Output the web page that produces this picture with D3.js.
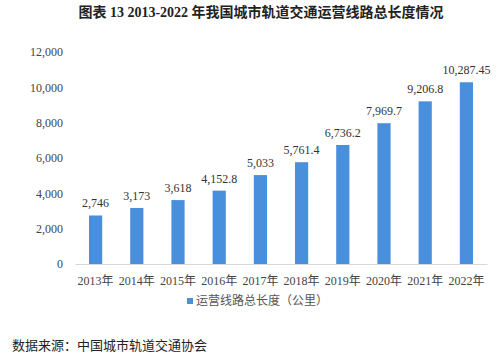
<!DOCTYPE html>
<html><head><meta charset="utf-8">
<script src="https://cdn.jsdelivr.net/npm/d3@7"></script>
<style>body{margin:0;background:#fff}svg{display:block}</style>
</head><body>
<svg id="c" width="497" height="358"></svg>
<script>
const categories = ["2013年","2014年","2015年","2016年","2017年","2018年","2019年","2020年","2021年","2022年"];
const values = [2746,3173,3618,4152.8,5033,5761.4,6736.2,7969.7,9206.8,10287.45];
const valueLabels = ["2,746","3,173","3,618","4,152.8","5,033","5,761.4","6,736.2","7,969.7","9,206.8","10,287.45"];
const yTicks = [0,2000,4000,6000,8000,10000,12000];
const seriesName = "运营线路总长度（公里）";
const title = "图表 13 2013-2022 年我国城市轨道交通运营线路总长度情况";
const source = "数据来源：中国城市轨道交通协会";

const font = "'Liberation Serif','Noto Sans CJK SC',serif";
const svg = d3.select("#c");
const color = "#4a8fdb";
const m = {l:75, r:487, t:52, b:264};
const x = d3.scaleBand().domain(categories).range([m.l, m.r]).paddingInner(0.68).paddingOuter(0.34);
const y = d3.scaleLinear().domain([0,12000]).range([m.b, m.t]);

svg.append("text").attr("x",261).attr("y",17).attr("text-anchor","middle")
  .attr("font-family",font).attr("font-weight","bold").attr("font-size",14).attr("fill","#222").text(title);

const ya = svg.append("g").attr("transform",`translate(${m.l},0)`)
  .call(d3.axisLeft(y).tickValues(yTicks).tickFormat(d3.format(",")).tickSize(0).tickPadding(12));
ya.select(".domain").remove();
ya.selectAll("text").attr("font-family",font).attr("font-size",12).attr("fill","#444");

svg.selectAll("rect.bar").data(values).enter().append("rect").attr("class","bar")
  .attr("x",(d,i)=>x(categories[i])).attr("width",x.bandwidth())
  .attr("y",d=>y(d)).attr("height",d=>y(0)-y(d)).attr("fill",color);

const xa = svg.append("g").attr("transform",`translate(0,${m.b})`)
  .call(d3.axisBottom(x).tickSize(0).tickPadding(12));
xa.select(".domain").attr("stroke","#d9d9d9");
xa.selectAll("text").attr("font-family",font).attr("font-size",12).attr("fill","#444");

svg.selectAll("text.lab").data(values).enter().append("text").attr("class","lab")
  .attr("x",(d,i)=>x(categories[i])+x.bandwidth()/2).attr("y",d=>y(d)-8)
  .attr("text-anchor","middle").attr("font-family",font).attr("font-size",12).attr("fill","#333")
  .text((d,i)=>valueLabels[i]);

const lg = svg.append("g").attr("transform","translate(187,305)");
lg.append("rect").attr("x",0).attr("y",-7).attr("width",6).attr("height",6).attr("fill",color);
lg.append("text").attr("x",9).attr("y",0).attr("font-family",font).attr("font-size",12).attr("fill","#555").text(seriesName);

svg.append("text").attr("x",12).attr("y",350).attr("font-family",font).attr("font-size",13).attr("fill","#222").text(source);
</script>
</body></html>
